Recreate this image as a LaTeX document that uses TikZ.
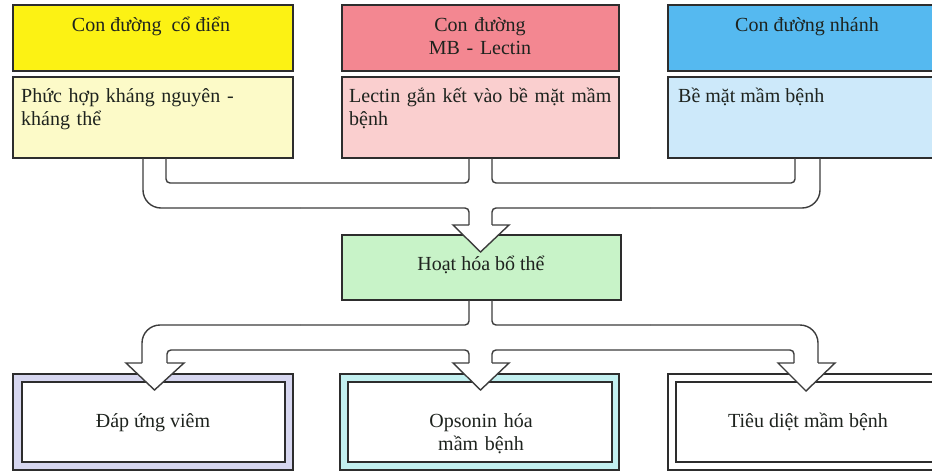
\documentclass[tikz,border=0pt]{standalone}
\usepackage{fontspec}
\setmainfont{Liberation Serif}
\usetikzlibrary{calc}
\definecolor{yelH}{RGB}{252,242,20}
\definecolor{yelC}{RGB}{252,250,200}
\definecolor{pinkH}{RGB}{243,135,145}
\definecolor{pinkC}{RGB}{250,207,207}
\definecolor{blueH}{RGB}{85,185,240}
\definecolor{blueC}{RGB}{205,233,250}
\definecolor{greenB}{RGB}{200,243,200}
\definecolor{lavB}{RGB}{215,215,240}
\definecolor{cyanB}{RGB}{195,240,240}
\definecolor{bord}{RGB}{45,45,45}
\definecolor{pipec}{RGB}{60,60,60}
\definecolor{txtc}{RGB}{30,35,30}
\newcommand{\pipehead}[3]{%
  \fill[white] (#1) -- ($(#1)+(-16,0)$) -- (#3) -- ($(#2)+(17,0)$) -- (#2) -- cycle;
  \draw[pipe, line join=miter] (#1) -- ($(#1)+(-16,0)$) -- (#3) -- ($(#2)+(17,0)$) -- (#2);}
\begin{document}
\begin{tikzpicture}[x=1pt,y=-1pt,
  box/.style={draw=bord, line width=1.6pt, anchor=north west, inner sep=0pt, outer sep=0pt},
  pipe/.style={draw=pipec, line width=1.4pt},
  txt/.style={font=\fontsize{20}{23.5}\selectfont, text=txtc, inner sep=0pt},
]
\useasboundingbox (0,0) rectangle (932,472);
\fill[white] (0,0) rectangle (932,472);
\clip (0,0) rectangle (932,472);

% top boxes
\node[box, fill=yelH, minimum width=280pt, minimum height=66pt] (h1) at (13,5) {};
\node[box, fill=yelC, minimum width=280pt, minimum height=81pt] (c1) at (13,77) {};
\node[box, fill=pinkH, minimum width=277pt, minimum height=66pt] (h2) at (342,5) {};
\node[box, fill=pinkC, minimum width=277pt, minimum height=81pt] (c2) at (342,77) {};
\node[box, fill=blueH, minimum width=280pt, minimum height=66pt] (h3) at (668,5) {};
\node[box, fill=blueC, minimum width=280pt, minimum height=81pt] (c3) at (668,77) {};
% middle box
\node[box, fill=greenB, minimum width=279pt, minimum height=65pt] (g) at (342,235) {};
% bottom boxes
\node[box, fill=lavB, minimum width=280pt, minimum height=96pt] (bA) at (13,374) {};
\node[box, fill=white, minimum width=263pt, minimum height=80pt] (bAi) at (22,382) {};
\node[box, fill=cyanB, minimum width=279pt, minimum height=96pt] (bB) at (340,374) {};
\node[box, fill=white, minimum width=264pt, minimum height=80pt] (bBi) at (348,382) {};
\node[box, fill=white, minimum width=280pt, minimum height=96pt] (bC) at (668,374) {};
\node[box, fill=white, minimum width=264pt, minimum height=80pt] (bCi) at (676,382) {};

% texts
\node[txt, anchor=base] (t1) at (151,31) {Con đường\ \ cổ điển};
\node[txt, anchor=base, text width=270pt, align=center] (t2) at (480,31) {Con đường\\MB - Lectin};
\node[txt, anchor=base] (t3) at (807,31) {Con đường nhánh};
\node[txt, anchor=base west, text width=300pt, align=left] (t4) at (21,102) {Phức hợp kháng nguyên -\\kháng thể};
\node[txt, anchor=base west, text width=300pt, align=left] (t5) at (349,102) {Lectin gắn kết vào bề mặt mầm\\bệnh};
\node[txt, anchor=base west] (t6) at (678,102) {Bề mặt mầm bệnh};
\node[txt, anchor=base] (t7) at (481,270) {Hoạt hóa bổ thể};
\node[txt, anchor=base] (t8) at (153,427) {Đáp ứng viêm};
\node[txt, anchor=base, text width=260pt, align=center] (t9) at (481,427) {Opsonin hóa\\mầm bệnh};
\node[txt, anchor=base] (t10) at (808,427) {Tiêu diệt mầm bệnh};

% guide coordinates
\coordinate (xa) at (143,0);
\coordinate (xb) at (166,0);
\coordinate (xm1) at (469,0);
\coordinate (xm2) at (492,0);
\coordinate (xc) at (795,0);
\coordinate (xd) at (820,0);
\coordinate (ml) at (300,0);
\coordinate (mr) at (650,0);
\coordinate (yi) at (0,183);
\coordinate (yo) at (0,208);
\coordinate (yf) at (0,225);
\coordinate (xL1) at (142,0);
\coordinate (xL2) at (167,0);
\coordinate (xR1) at (794,0);
\coordinate (xR2) at (818,0);
\coordinate (yb1) at (0,325);
\coordinate (yb2) at (0,350);
\coordinate (yb3) at (0,363);
\coordinate (tipT) at (480.5,252);
\coordinate (tipL) at (154.5,390);
\coordinate (tipM) at (480.5,390);
\coordinate (tipR) at (806,391);

% top pipes
\draw[pipe, rounded corners=4pt] (xb |- c1.south) |- (xm1 |- yi) -- (xm1 |- c2.south);
\draw[pipe, rounded corners=4pt] (xm2 |- c2.south) |- (xc |- yi) -- (xc |- c3.south);
\draw[pipe, rounded corners=18pt] (xa |- c1.south) |- (ml |- yo);
\draw[pipe, rounded corners=4pt] (ml |- yo) -| (xm1 |- yf);
\draw[pipe, rounded corners=18pt] (xd |- c3.south) |- (mr |- yo);
\draw[pipe, rounded corners=4pt] (mr |- yo) -| (xm2 |- yf);
\pipehead{xm1 |- yf}{xm2 |- yf}{tipT}

% bottom pipes
\draw[pipe, rounded corners=4pt] (xm1 |- g.south) |- (ml |- yb1);
\draw[pipe, rounded corners=18pt] (ml |- yb1) -| (xL1 |- yb3);
\draw[pipe, rounded corners=4pt] (xL2 |- yb3) |- (xm1 |- yb2) -- (xm1 |- yb3);
\draw[pipe, rounded corners=4pt] (xm2 |- yb3) |- (xR1 |- yb2) -- (xR1 |- yb3);
\draw[pipe, rounded corners=4pt] (xm2 |- g.south) |- (mr |- yb1);
\draw[pipe, rounded corners=18pt] (mr |- yb1) -| (xR2 |- yb3);
\pipehead{xL1 |- yb3}{xL2 |- yb3}{tipL}
\pipehead{xm1 |- yb3}{xm2 |- yb3}{tipM}
\pipehead{xR1 |- yb3}{xR2 |- yb3}{tipR}
\end{tikzpicture}
\end{document}
